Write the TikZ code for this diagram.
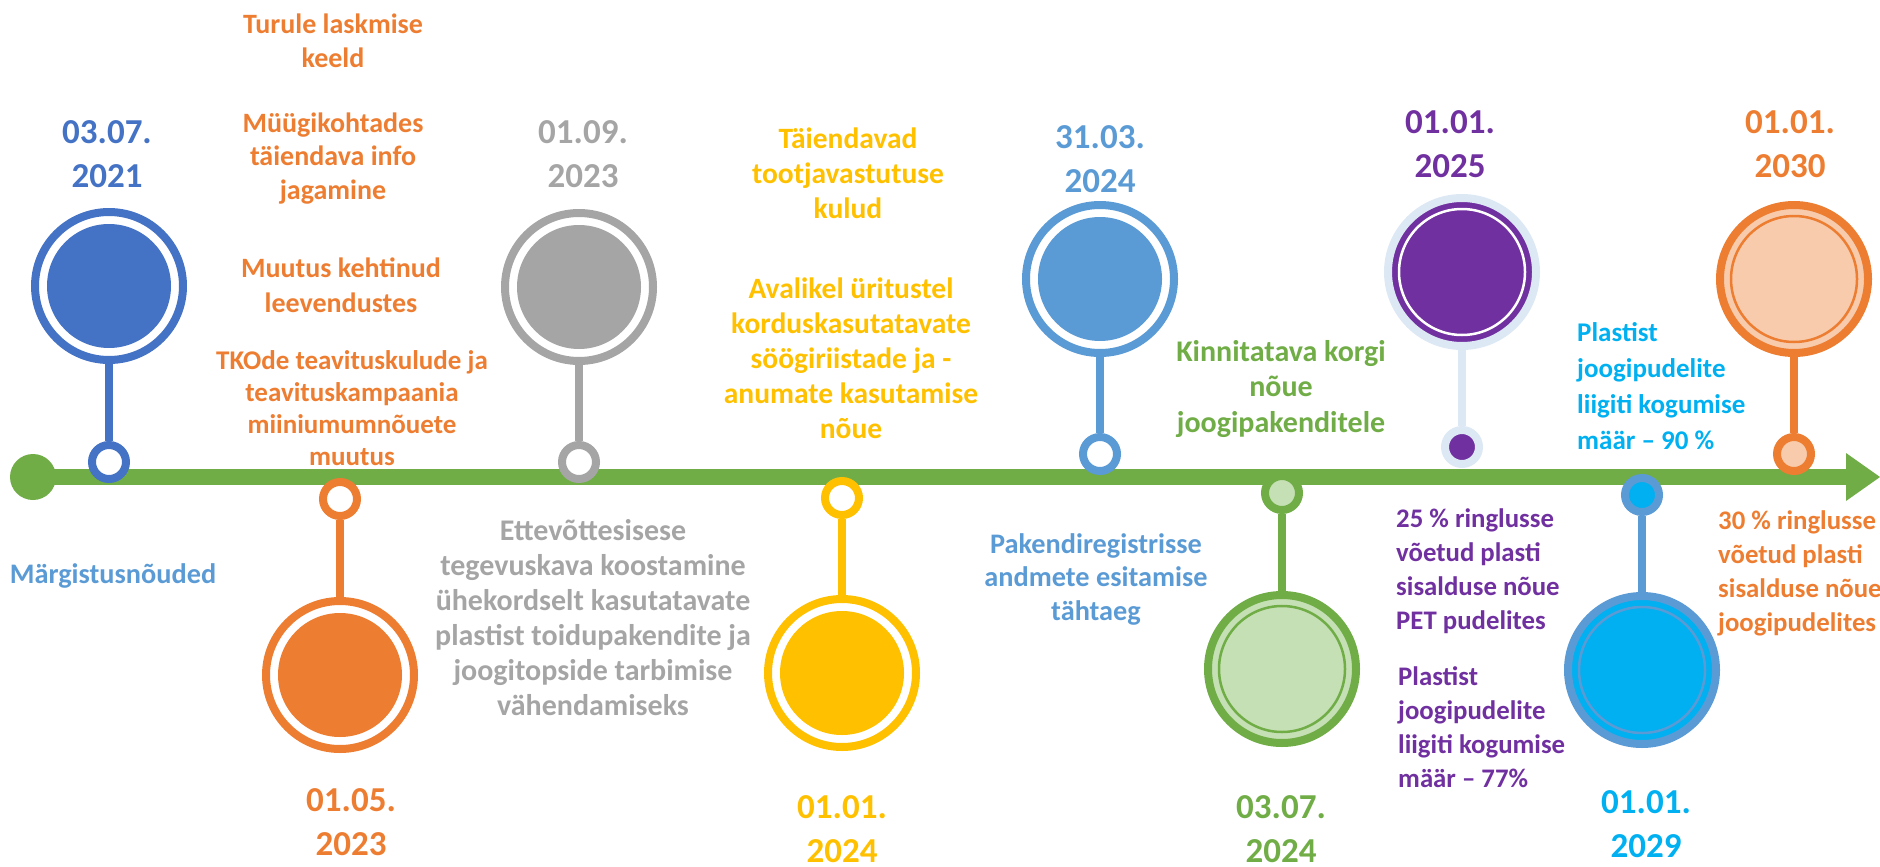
\documentclass[tikz,border=0pt]{standalone}
\usepackage{fontspec}
\setmainfont{Carlito}
\usetikzlibrary{arrows.meta}
\definecolor{darkblue}{HTML}{4472C4}
\definecolor{softblue}{HTML}{5B9BD5}
\definecolor{skyblue}{HTML}{00B0F0}
\definecolor{tkorange}{HTML}{ED7D31}
\definecolor{peach}{HTML}{F8CBAD}
\definecolor{softgray}{HTML}{A5A5A5}
\definecolor{gold}{HTML}{FFC000}
\definecolor{linegreen}{HTML}{70AD47}
\definecolor{palegreen}{HTML}{C5E0B4}
\definecolor{plum}{HTML}{7030A0}
\definecolor{paleblue}{HTML}{DDE8F5}
\tikzset{
	txtsize/.style 2 args={font=\fontsize{#1}{#2}\selectfont\bfseries},
	daytext/.style={txtsize={35}{43.5}, text=#1, align=center, anchor=base, inner sep=0pt},
	infotext/.style={txtsize={28}{34}, text=#1, align=center, anchor=base, inner sep=0pt},
	infoleft/.style={infotext=#1, align=left, anchor=base west},
	bigdot/.style={circle, minimum size=148pt, inner sep=0pt, draw=#1, line width=8pt, fill=white,
		path picture={\fill[#1] (path picture bounding box.center) circle (62pt);}},
	bigband/.style n args={3}{circle, minimum size=148pt, inner sep=0pt, draw=#1, line width=8pt, fill=#2,
		path picture={\draw[#3, line width=2.5pt] (path picture bounding box.center) circle (63pt);}},
	smallring/.style 2 args={circle, minimum size=34pt, inner sep=0pt, draw=#1, line width=8pt, fill=#2},
	stalk/.style={draw=#1, line width=8pt},
	timeaxis/.style={draw=linegreen, line width=16pt, -{Triangle[length=34pt, width=48pt, line width=0pt]}}
}

\begin{document}
\begin{tikzpicture}[x=1pt, y=-1pt]
	%%%%% START %%%%%
	\useasboundingbox (0,0) rectangle (1880,867);
	
	\node[circle, fill=linegreen, minimum size=46pt, inner sep=0pt] (start) at (33,477) {};
	\coordinate (tip) at (1880,477);
	\draw[timeaxis] (start.center) -- (tip);
	
	%%%%% ABOVE THE LINE %%%%%
	\node[bigdot=darkblue] (big21) at (109,286) {};
	\node[smallring={darkblue}{white}] (ring21) at (109,462) {};
	\draw[stalk=darkblue] (big21.south) -- (ring21.north);
	\node[daytext=darkblue] (day21) at (107,187) {03.07.\\2021};
	
	\node[bigdot=softgray] (big23b) at (579,287) {};
	\node[smallring={softgray}{white}] (ring23b) at (579,462) {};
	\draw[stalk=softgray] (big23b.south) -- (ring23b.north);
	\node[daytext=softgray] (day23b) at (583,187) {01.09.\\2023};
	
	\node[bigdot=softblue] (big24b) at (1100,279) {};
	\node[smallring={softblue}{white}] (ring24b) at (1100,454) {};
	\draw[stalk=softblue] (big24b.south) -- (ring24b.north);
	\node[daytext=softblue] (day24b) at (1100,192) {31.03.\\2024};
	
	\node[bigband={paleblue}{plum}{white}] (big25) at (1462,272) {};
	\node[smallring={paleblue}{plum}] (ring25) at (1462,447) {};
	\draw[stalk=paleblue] (big25.south) -- (ring25.north);
	\node[daytext=plum] (day25) at (1450,177) {01.01.\\2025};
	
	\node[bigband={tkorange}{peach}{tkorange}] (big30) at (1794,279) {};
	\node[smallring={tkorange}{peach}] (ring30) at (1794,454) {};
	\draw[stalk=tkorange] (big30.south) -- (ring30.north);
	\node[daytext=tkorange] (day30) at (1790,177) {01.01.\\2030};
	
	%%%%% BELOW THE LINE %%%%%
	\node[smallring={tkorange}{white}] (ring23a) at (340,499) {};
	\node[bigdot=tkorange] (big23a) at (340,675) {};
	\draw[stalk=tkorange] (ring23a.south) -- (big23a.north);
	\node[daytext=tkorange] (day23a) at (351,855) {01.05.\\2023};
	
	\node[smallring={gold}{white}] (ring24a) at (842,498) {};
	\node[bigdot=gold] (big24a) at (842,673) {};
	\draw[stalk=gold] (ring24a.south) -- (big24a.north);
	\node[daytext=gold] (day24a) at (842,862) {01.01.\\2024};
	
	\node[smallring={linegreen}{palegreen}] (ring24c) at (1282,493) {};
	\node[bigband={linegreen}{palegreen}{linegreen}] (big24c) at (1282,669) {};
	\draw[stalk=linegreen] (ring24c.south) -- (big24c.north);
	\node[daytext=linegreen] (day24c) at (1281,862) {03.07.\\2024};
	
	\node[smallring={softblue}{skyblue}] (ring29) at (1642,495) {};
	\node[bigband={softblue}{skyblue}{softblue}] (big29) at (1642,670) {};
	\draw[stalk=softblue] (ring29.south) -- (big29.north);
	\node[daytext=skyblue] (day29) at (1646,857) {01.01.\\2029};
	
	%%%%% TEXTS %%%%%
	\node[infotext=tkorange, txtsize={28}{33.5}] (turule) at (333,67) {Turule laskmise\\keeld};
	\node[infotext=tkorange, txtsize={28}{33.5}] (myyk) at (333,199) {Müügikohtades\\täiendava info\\jagamine};
	\node[infotext=tkorange, txtsize={28}{35}] (leeven) at (341,312) {Muutus kehtinud\\leevendustes};
	\node[infotext=tkorange, txtsize={27}{31.7}] (tko) at (352,465) {TKOde teavituskulude ja\\teavituskampaania\\miiniumumnõuete\\muutus};
	\node[infotext=softblue, txtsize={28.3}{34}] (margis) at (113,583) {Märgistusnõuded};
	\node[infotext=softgray, txtsize={30}{35}] (tegevus) at (593,715) {Ettevõttesisese\\tegevuskava koostamine\\ühekordselt kasutatavate\\plastist toidupakendite ja\\joogitopside tarbimise\\vähendamiseks};
	\node[infotext=gold, txtsize={29.5}{35}] (kulud) at (848,218) {Täiendavad\\tootjavastutuse\\kulud};
	\node[infotext=gold, txtsize={29.5}{35}] (anumad) at (851,438) {Avalikel üritustel\\korduskasutatavate\\söögiriistade ja -\\anumate kasutamise\\nõue};
	\node[infotext=softblue, txtsize={28.3}{33.5}] (register) at (1096,620) {Pakendiregistrisse\\andmete esitamise\\tähtaeg};
	\node[infotext=linegreen, txtsize={30}{35.5}] (kork) at (1281,432) {Kinnitatava korgi\\nõue\\joogipakenditele};
	\node[infoleft=plum, txtsize={26.8}{34}] (pet) at (1396,629) {25 \% ringlusse\\võetud plasti\\sisalduse nõue\\PET pudelites};
	\node[infoleft=plum, txtsize={26.8}{34}] (kogu77) at (1398,787) {Plastist\\joogipudelite\\liigiti kogumise\\määr – 77\%};
	\node[infoleft=skyblue, txtsize={27}{36}] (kogu90) at (1577,449) {Plastist\\joogipudelite\\liigiti kogumise\\määr – 90 \%};
	\node[infoleft=tkorange, txtsize={26.8}{34}] (joogi30) at (1718,631) {30 \% ringlusse\\võetud plasti\\sisalduse nõue\\joogipudelites};
	
	%%%%% END %%%%%
\end{tikzpicture}
\end{document}
